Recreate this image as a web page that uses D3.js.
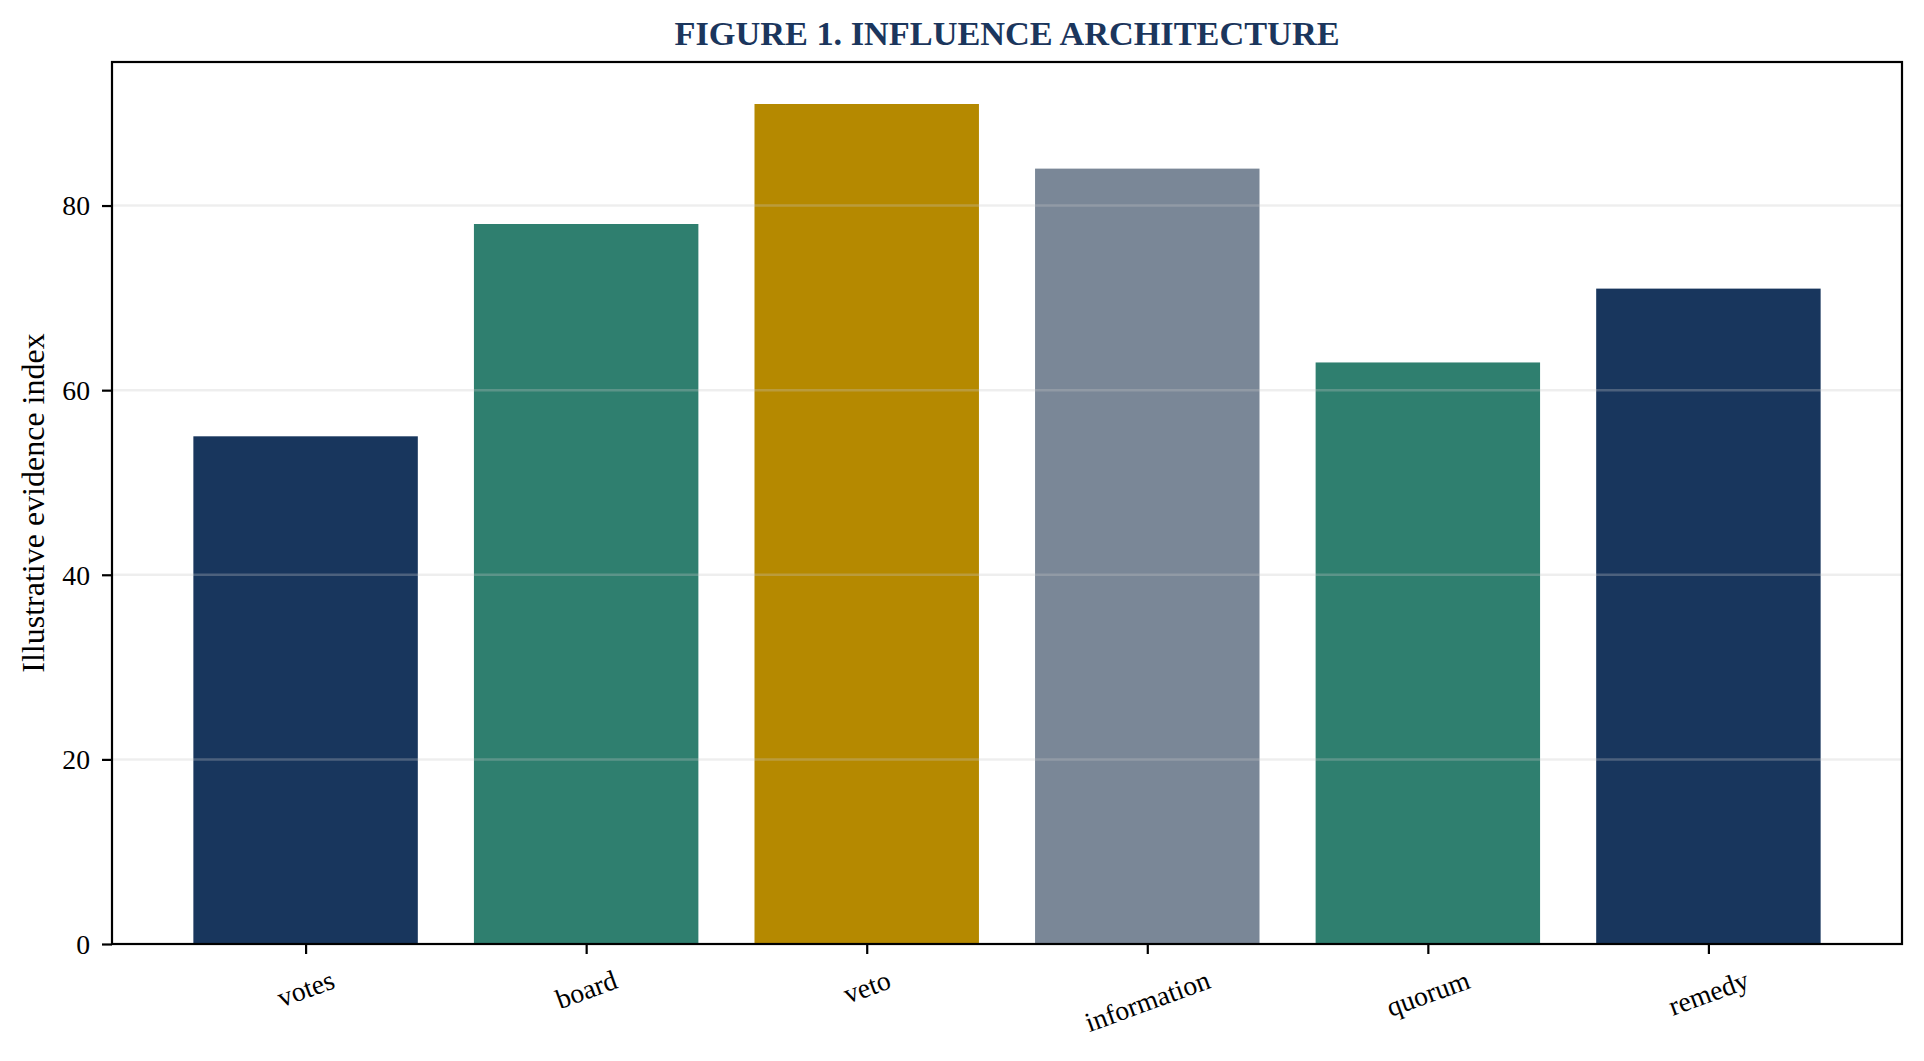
<!DOCTYPE html>
<html lang="en">
<head>
    <meta charset="UTF-8">
    <title>Figure 1. Influence Architecture</title>
    <script src="https://d3js.org/d3.v7.min.js"></script>
    <style>
        body { margin: 0; background: #fff; }
        svg { display: block; }
        svg text { font-family: "Liberation Serif", "Times New Roman", serif; fill: #000; }
    </style>
</head>
<body>
    <div id="chart"></div>
    <script>
        // chart data
        const categories = ["votes", "board", "veto", "information", "quorum", "remedy"];
        const values = [55, 78, 91, 84, 63, 71];
        const barColors = ["#18365d", "#2f7f6f", "#b58900", "#7a8797", "#2f7f6f", "#18365d"];
        const yTicks = [0, 20, 40, 60, 80];

        const width = 1924, height = 1061;
        const margin = {top: 62, right: 22, bottom: 117, left: 112};
        const innerW = width - margin.left - margin.right;
        const innerH = height - margin.top - margin.bottom;
        const tickFont = 27.7;

        const svg = d3.select("#chart").append("svg")
            .attr("width", width)
            .attr("height", height);

        // matplotlib-like x range: bars 0.8 wide, 5% margins
        const xLin = d3.scaleLinear()
            .domain([-0.4 - 0.29, categories.length - 0.6 + 0.29])
            .range([0, innerW]);
        const y = d3.scaleLinear()
            .domain([0, d3.max(values) * 1.05])
            .range([innerH, 0]);

        const g = svg.append("g").attr("transform", `translate(${margin.left},${margin.top})`);

        // bars
        g.append("g").selectAll("rect")
            .data(values)
            .join("rect")
            .attr("x", (d, i) => xLin(i - 0.4))
            .attr("width", (d, i) => xLin(i + 0.4) - xLin(i - 0.4))
            .attr("y", d => y(d))
            .attr("height", d => innerH - y(d))
            .attr("fill", (d, i) => barColors[i]);

        // gridlines on top of bars
        g.append("g").selectAll("line")
            .data(yTicks.filter(t => t > 0))
            .join("line")
            .attr("x1", 0).attr("x2", innerW)
            .attr("y1", d => y(d)).attr("y2", d => y(d))
            .attr("stroke", "#c8c8c8")
            .attr("stroke-opacity", 0.3)
            .attr("stroke-width", 2.5);

        // y axis
        const yAxis = g.append("g")
            .call(d3.axisLeft(y).tickValues(yTicks).tickSize(10).tickPadding(12));
        yAxis.selectAll("text").attr("font-size", tickFont).attr("dy", "0.34em");
        yAxis.selectAll("line").attr("stroke-width", 2.2);
        yAxis.select(".domain").remove();

        // x axis, labels rotated 20deg and centred under the tick
        const xAxis = g.append("g")
            .attr("transform", `translate(0,${innerH})`)
            .call(d3.axisBottom(xLin).tickValues(d3.range(categories.length))
                .tickFormat(i => categories[i]).tickSize(10).tickPadding(0));
        xAxis.select(".domain").remove();
        xAxis.selectAll("line").attr("stroke-width", 2.2);
        const rot = 20 * Math.PI / 180;
        xAxis.selectAll("text")
            .attr("font-size", tickFont)
            .attr("text-anchor", "middle")
            .attr("dy", "0.3em")
            .attr("y", 0)
            .attr("transform", function () {
                const L = this.getComputedTextLength();
                const h = tickFont * 0.75;
                const bh = L * Math.sin(rot) + h * Math.cos(rot);
                return `translate(0,${26 + bh / 2}) rotate(-20)`;
            });

        // frame
        g.append("rect")
            .attr("width", innerW)
            .attr("height", innerH)
            .attr("fill", "none")
            .attr("stroke", "#000")
            .attr("stroke-width", 2.2);

        // y label
        svg.append("text")
            .attr("transform", `translate(44,${margin.top + innerH / 2}) rotate(-90)`)
            .attr("text-anchor", "middle")
            .attr("font-size", 32)
            .text("Illustrative evidence index");

        // title
        svg.append("text")
            .attr("x", margin.left + innerW / 2)
            .attr("y", 45)
            .attr("text-anchor", "middle")
            .attr("font-size", 34.3)
            .attr("font-weight", "bold")
            .style("fill", "#1b365d")
            .text("FIGURE 1. INFLUENCE ARCHITECTURE");
    </script>
</body>
</html>
